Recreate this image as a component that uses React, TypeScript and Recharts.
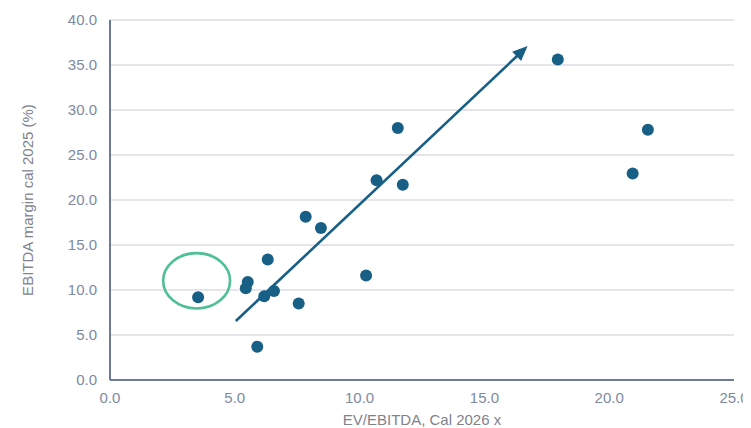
import React from "react";
import {
  ScatterChart,
  Scatter,
  XAxis,
  YAxis,
  CartesianGrid,
  ReferenceLine,
  ReferenceArea,
} from "recharts";

// EV/EBITDA, Cal 2026 x
const evEbitda = [3.53, 5.52, 5.44, 6.32, 6.18, 6.57, 5.9, 7.56, 7.84, 8.45, 10.26, 10.68, 11.73, 11.53, 17.94, 20.94, 21.55];
// EBITDA margin cal 2025 (%)
const ebitdaMargin = [9.2, 10.9, 10.2, 13.4, 9.3, 9.9, 3.7, 8.5, 18.15, 16.9, 11.6, 22.2, 21.7, 28.0, 35.6, 22.95, 27.8];

const xTicks = [0, 5, 10, 15, 20, 25];
const yTicks = [0, 5, 10, 15, 20, 25, 30, 35, 40];

// trend arrow (start, end)
const arrowStart = { x: 5.04, y: 6.55 };
const arrowEnd = { x: 16.73, y: 37.1 };

// highlighted outlier ellipse bounds
const ellipseX = [2.13, 4.81];
const ellipseY = [7.95, 14.1];

const data = evEbitda.map((x, i) => ({ x, y: ebitdaMargin[i] }));

const FONT = '"Liberation Sans", Arial, sans-serif';
const TICK_COLOR = "#7d8aa3";
const TITLE_COLOR = "#80838d";
const AXIS_COLOR = "#6b7a96";
const DOT_COLOR = "#185f86";
const ELLIPSE_COLOR = "#4fbf95";

const ArrowShape = (props: any) => {
  const { x1, y1, x2, y2 } = props;
  if ([x1, y1, x2, y2].some((v) => typeof v !== "number" || isNaN(v))) return null;
  const dx = x2 - x1;
  const dy = y2 - y1;
  const len = Math.sqrt(dx * dx + dy * dy);
  const ux = dx / len;
  const uy = dy / len;
  const headLen = 15;
  const headW = 6.5;
  const bx = x2 - ux * headLen;
  const by = y2 - uy * headLen;
  const px = -uy;
  const py = ux;
  const pts = `${x2},${y2} ${bx + px * headW},${by + py * headW} ${bx - px * headW},${by - py * headW}`;
  return (
    <g>
      <line x1={x1} y1={y1} x2={bx + ux * 2} y2={by + uy * 2} stroke={DOT_COLOR} strokeWidth={2.6} />
      <polygon points={pts} fill={DOT_COLOR} />
    </g>
  );
};

const EllipseShape = (props: any) => {
  const { x, y, width, height } = props;
  if ([x, y, width, height].some((v) => typeof v !== "number" || isNaN(v))) return null;
  return (
    <ellipse
      cx={x + width / 2}
      cy={y + height / 2}
      rx={Math.abs(width) / 2}
      ry={Math.abs(height) / 2}
      fill="none"
      stroke={ELLIPSE_COLOR}
      strokeWidth={2.6}
    />
  );
};

const YTitle = (props: any) => {
  const vb = props.viewBox || {};
  const cy = vb.y + vb.height / 2;
  const cx = 19.5;
  return (
    <text
      x={cx}
      y={cy}
      transform={`rotate(-90, ${cx}, ${cy})`}
      textAnchor="middle"
      dominantBaseline="central"
      fill={TITLE_COLOR}
      fontSize={15}
      fontFamily={FONT}
    >
      EBITDA margin cal 2025 (%)
    </text>
  );
};

const XTitle = (props: any) => {
  const vb = props.viewBox || {};
  const cx = vb.x + vb.width / 2;
  return (
    <text x={cx} y={417} textAnchor="middle" fill={TITLE_COLOR} fontSize={15} fontFamily={FONT}>
      EV/EBITDA, Cal 2026 x
    </text>
  );
};

export default function App() {
  return (
    <div style={{ width: 743, height: 420 }}>
      <ScatterChart
        width={743}
        height={420}
        margin={{ top: 12, right: 17, bottom: 0, left: 0 }}
        style={{ fontFamily: FONT }}
      >
        <CartesianGrid horizontal vertical={false} stroke="#dcdde4" strokeWidth={1.5} />
        <XAxis
          type="number"
          dataKey="x"
          domain={[0, 25]}
          ticks={xTicks}
          interval={0}
          height={48}
          tickLine={false}
          tickSize={6}
          tickMargin={6}
          axisLine={{ stroke: AXIS_COLOR, strokeWidth: 2 }}
          tick={{ fill: TICK_COLOR, fontSize: 15, fontFamily: FONT }}
          tickFormatter={(v: number) => v.toFixed(1)}
          label={{ content: XTitle }}
        />
        <YAxis
          type="number"
          dataKey="y"
          domain={[0, 40]}
          ticks={yTicks}
          interval={0}
          width={102}
          tickLine={false}
          tickSize={6}
          tickMargin={7}
          axisLine={{ stroke: AXIS_COLOR, strokeWidth: 2 }}
          tick={{ fill: TICK_COLOR, fontSize: 15, fontFamily: FONT }}
          tickFormatter={(v: number) => v.toFixed(1)}
          label={{ content: YTitle }}
        />
        <ReferenceArea
          x1={ellipseX[0]}
          x2={ellipseX[1]}
          y1={ellipseY[0]}
          y2={ellipseY[1]}
          shape={EllipseShape}
          ifOverflow="visible"
        />
        <ReferenceLine
          segment={[arrowStart, arrowEnd]}
          shape={ArrowShape}
          ifOverflow="visible"
        />
        <Scatter data={data} fill={DOT_COLOR} isAnimationActive={false} shape={(p: any) => <circle cx={p.cx} cy={p.cy} r={6} fill={DOT_COLOR} />} />
      </ScatterChart>
    </div>
  );
}
